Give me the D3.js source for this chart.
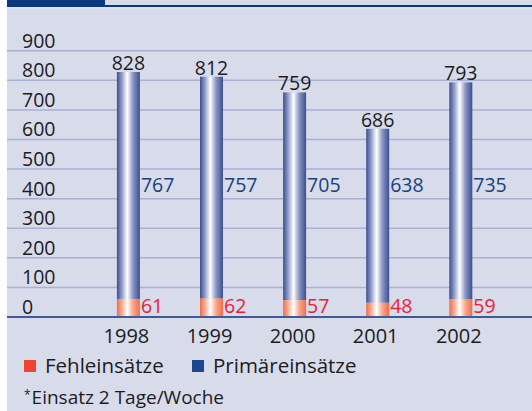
<!DOCTYPE html>
<html>
<head>
<meta charset="utf-8">
<script src="https://cdn.jsdelivr.net/npm/d3@7"></script>
<style>
  body { margin: 0; background: #fff; }
  svg { display: block; }
  text { font-family: "Open Sans", "Noto Sans", sans-serif; }
</style>
</head>
<body>
<svg id="chart"></svg>
<script>
const years = ["1998", "1999", "2000", "2001", "2002"]
const fehl = [61, 62, 57, 48, 59]
const primaer = [767, 757, 705, 638, 735]
const gesamt = [828, 812, 759, 686, 793]
// column tops as drawn in the original (2001 is drawn lower than its label)
const drawnTotal = [828, 812, 759, 636, 793]
const yTicks = [0, 100, 200, 300, 400, 500, 600, 700, 800, 900]

const W = 532, H = 411

const svg = d3.select("#chart")
    .attr("width", W)
    .attr("height", H)

const defs = svg.append("defs")

function cylinder(id, edge, mid) {
    const g = defs.append("linearGradient")
        .attr("id", id)
        .attr("x1", "0%").attr("x2", "100%")
        .attr("y1", "0%").attr("y2", "0%")
    g.append("stop").attr("offset", "0%").attr("stop-color", edge)
    g.append("stop").attr("offset", "20%").attr("stop-color", mid)
    g.append("stop").attr("offset", "45%").attr("stop-color", "#ffffff")
    g.append("stop").attr("offset", "70%").attr("stop-color", mid)
    g.append("stop").attr("offset", "100%").attr("stop-color", edge)
}
cylinder("blueBar", "#3a4e90", "#8a96c4")
cylinder("redBar", "#f56a4c", "#f9a68c")

// background
svg.append("rect")
    .attr("x", 7).attr("y", 0)
    .attr("width", W - 7).attr("height", H)
    .attr("fill", "#d8dbea")

// header tab and rule
svg.append("rect")
    .attr("x", 7).attr("y", 5)
    .attr("width", W - 7).attr("height", 2)
    .attr("fill", "#0c3a80")
svg.append("rect")
    .attr("x", 7).attr("y", 0)
    .attr("width", 98).attr("height", 7)
    .attr("fill", "#0c3a80")
svg.append("rect")
    .attr("x", 7).attr("y", 7.5)
    .attr("width", W - 7).attr("height", 1)
    .attr("fill", "#e6e8f2")

const y = d3.scaleLinear()
    .domain([0, 900])
    .range([317, 50.7])

const x = d3.scalePoint()
    .domain(years)
    .range([128.4, 460.8])

const barW = 23
const ink = "#1c1c1c"

// gridlines
svg.append("g")
    .selectAll("line")
    .data(yTicks.filter(d => d > 0))
    .enter()
    .append("line")
        .attr("x1", 7)
        .attr("x2", W)
        .attr("y1", d => y(d))
        .attr("y2", d => y(d))
        .attr("stroke", "#a9afd5")
        .attr("stroke-width", 1.5)

// y tick labels sit above their lines
svg.append("g")
    .selectAll("text")
    .data(yTicks)
    .enter()
    .append("text")
        .attr("x", 22)
        .attr("y", d => y(d) - 3)
        .attr("font-size", 19.5)
        .attr("fill", ink)
        .text(d => d)

const rows = years.map((yr, i) => ({
    year: yr, fehl: fehl[i], primaer: primaer[i], gesamt: gesamt[i], top: drawnTotal[i]
}))

// primary part of the column
svg.append("g")
    .selectAll("rect")
    .data(rows)
    .enter()
    .append("rect")
        .attr("x", d => x(d.year) - barW / 2)
        .attr("y", d => y(d.top))
        .attr("width", barW)
        .attr("height", d => y(d.fehl) - y(d.top))
        .attr("fill", "url(#blueBar)")

// false-alarm part
svg.append("g")
    .selectAll("rect")
    .data(rows)
    .enter()
    .append("rect")
        .attr("x", d => x(d.year) - barW / 2)
        .attr("y", d => y(d.fehl))
        .attr("width", barW)
        .attr("height", d => y(0) - y(d.fehl))
        .attr("fill", "url(#redBar)")

// baseline
svg.append("line")
    .attr("x1", 7).attr("x2", W)
    .attr("y1", y(0)).attr("y2", y(0))
    .attr("stroke", "#3d5b98")
    .attr("stroke-width", 2)

// totals on top
svg.append("g")
    .selectAll("text")
    .data(rows)
    .enter()
    .append("text")
        .attr("x", d => x(d.year))
        .attr("y", d => y(d.top) - 2)
        .attr("text-anchor", "middle")
        .attr("font-size", 19.5)
        .attr("fill", ink)
        .text(d => d.gesamt)

// primary values
svg.append("g")
    .selectAll("text")
    .data(rows)
    .enter()
    .append("text")
        .attr("x", d => x(d.year) + barW / 2 + 1)
        .attr("y", 192)
        .attr("font-size", 19.5)
        .attr("fill", "#16427f")
        .text(d => d.primaer)

// false-alarm values
svg.append("g")
    .selectAll("text")
    .data(rows)
    .enter()
    .append("text")
        .attr("x", d => x(d.year) + barW / 2 + 1)
        .attr("y", 313)
        .attr("font-size", 19.5)
        .attr("fill", "#e8223a")
        .text(d => d.fehl)

// year labels
svg.append("g")
    .selectAll("text")
    .data(years)
    .enter()
    .append("text")
        .attr("x", d => x(d) - 2)
        .attr("y", 343)
        .attr("text-anchor", "middle")
        .attr("font-size", 20)
        .attr("fill", ink)
        .text(d => d)

// legend
const legend = [
    { label: "Fehleinsätze", color: "#f04433", x: 24 },
    { label: "Primäreinsätze", color: "#1f4790", x: 192 }
]
const lg = svg.append("g")
    .selectAll("g")
    .data(legend)
    .enter()
    .append("g")
lg.append("rect")
    .attr("x", d => d.x)
    .attr("y", 360)
    .attr("width", 12)
    .attr("height", 12)
    .attr("fill", d => d.color)
lg.append("text")
    .attr("x", d => d.x + 21)
    .attr("y", 373)
    .attr("font-size", 20.5)
    .attr("fill", ink)
    .text(d => d.label)

// footnote
const note = svg.append("text")
    .attr("x", 24)
    .attr("y", 404)
    .attr("font-size", 19)
    .attr("fill", ink)
note.append("tspan")
    .attr("font-size", 12)
    .attr("dy", -5)
    .text("*")
note.append("tspan")
    .attr("dy", 5)
    .attr("dx", 1)
    .text("Einsatz 2 Tage/Woche")
</script>
</body>
</html>
